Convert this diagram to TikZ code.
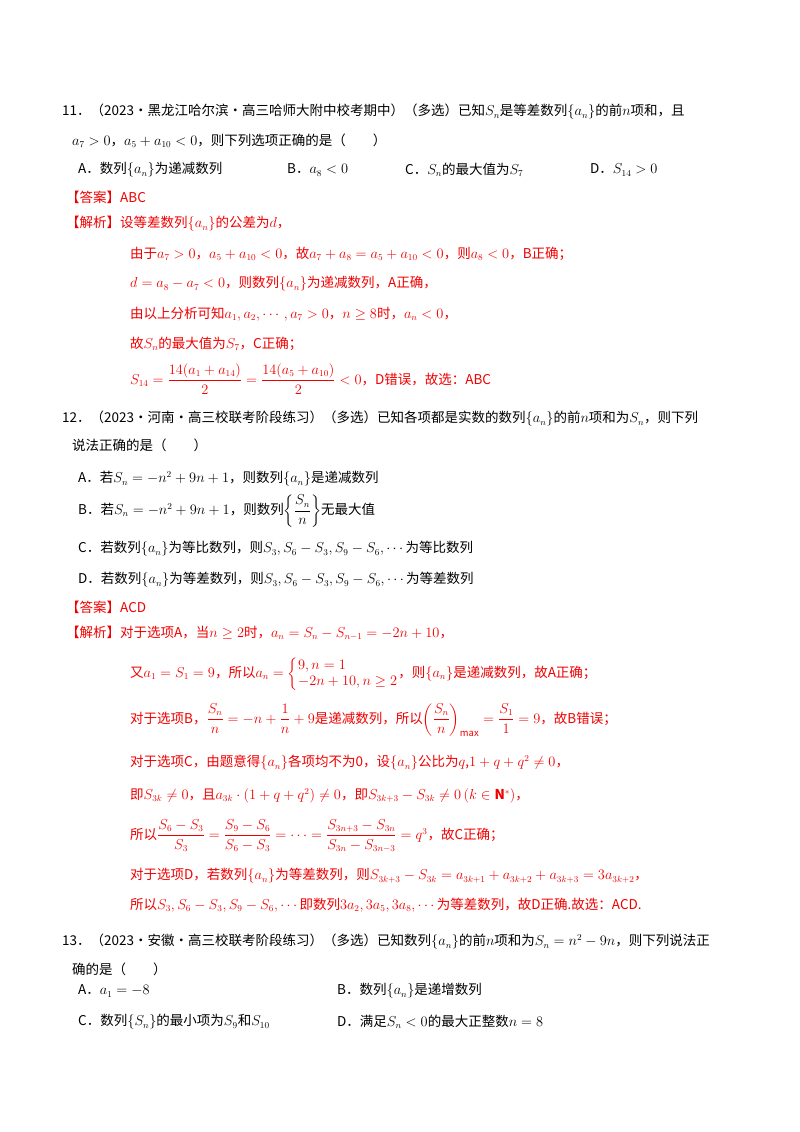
\documentclass[tikz,border=0pt]{standalone}
\usepackage{amsmath,amssymb}
\usepackage{fontspec}
\setmainfont{Noto Sans CJK SC}
\definecolor{ans}{RGB}{240,0,0}
\begin{document}
\begin{tikzpicture}[x=1pt,y=-1pt,
 t/.style={anchor=west,inner sep=0pt,font=\fontsize{13.5}{16}\selectfont},
 r/.style={t,text=ans}]
\useasboundingbox[fill=white] (0,0) rectangle (800,1132);
\node[t] (l1) at (62,112) {11．（2023·黑龙江哈尔滨·高三哈师大附中校考期中）（多选）已知$S_n$是等差数列$\{a_n\}$的前$n$项和，且};
\node[t] (l2) at (72,141) {$a_7>0$，$a_5+a_{10}<0$，则下列选项正确的是（\qquad）};
\node[t] (o1a) at (78,170) {A．数列$\{a_n\}$为递减数列};
\node[t] (o1b) at (287,170) {B．$a_8<0$};
\node[t] (o1c) at (405,170) {C．$S_n$的最大值为$S_7$};
\node[t] (o1d) at (590,170) {D．$S_{14}>0$};
\node[r] (a1) at (66,197) {【答案】ABC};
\node[r] (j1) at (66,224) {【解析】设等差数列$\{a_n\}$的公差为$d$，};
\node[r] (j1b) at (130,254) {由于$a_7>0$，$a_5+a_{10}<0$，故$a_7+a_8=a_5+a_{10}<0$，则$a_8<0$，B正确；};
\node[r] (j1c) at (130,284) {$d=a_8-a_7<0$，则数列$\{a_n\}$为递减数列，A正确，};
\node[r] (j1d) at (130,314) {由以上分析可知$a_1,a_2,\cdots,a_7>0$，$n\geq8$时，$a_n<0$，};
\node[r] (j1e) at (130,344) {故$S_n$的最大值为$S_7$，C正确；};
\node[r] (j1f) at (130,379) {$S_{14}=\dfrac{14(a_1+a_{14})}{2}=\dfrac{14(a_5+a_{10})}{2}<0$，D错误，故选：ABC};
\node[t] (l3) at (62,419) {12．（2023·河南·高三校联考阶段练习）（多选）已知各项都是实数的数列$\{a_n\}$的前$n$项和为$S_n$，则下列};
\node[t] (l4) at (72,445) {说法正确的是（\qquad）};
\node[t] (o2a) at (78,479) {A．若$S_n=-n^2+9n+1$，则数列$\{a_n\}$是递减数列};
\node[t] (o2b) at (78,511) {B．若$S_n=-n^2+9n+1$，则数列$\left\{\dfrac{S_n}{n}\right\}$无最大值};
\node[t] (o2c) at (78,549) {C．若数列$\{a_n\}$为等比数列，则$S_3,S_6-S_3,S_9-S_6,\cdots$为等比数列};
\node[t] (o2d) at (78,580) {D．若数列$\{a_n\}$为等差数列，则$S_3,S_6-S_3,S_9-S_6,\cdots$为等差数列};
\node[r] (a2) at (66,607) {【答案】ACD};
\node[r] (j2) at (66,633) {【解析】对于选项A，当$n\geq2$时，$a_n=S_n-S_{n-1}=-2n+10$，};
\node[r] (j2b) at (130,674) {又$a_1=S_1=9$，所以$a_n=\left\{\begin{array}{@{}l@{}}9,n=1\\-2n+10,n\geq2\end{array}\right.$，则$\{a_n\}$是递减数列，故A正确；};
\node[r] (j2c) at (130,720) {对于选项B，$\dfrac{S_n}{n}=-n+\dfrac1n+9$是递减数列，所以$\left(\dfrac{S_n}{n}\right)_{\max}=\dfrac{S_1}{1}=9$，故B错误；};
\node[r] (j2d) at (130,763) {对于选项C，由题意得$\{a_n\}$各项均不为0，设$\{a_n\}$公比为$q$,$1+q+q^2\neq0$，};
\node[r] (j2e) at (130,796) {即$S_{3k}\neq0$，且$a_{3k}\cdot(1+q+q^2)\neq0$，即$S_{3k+3}-S_{3k}\neq0\left(k\in\mathbf{N}^*\right)$，};
\node[r] (j2f) at (130,836) {所以$\dfrac{S_6-S_3}{S_3}=\dfrac{S_9-S_6}{S_6-S_3}=\cdots=\dfrac{S_{3n+3}-S_{3n}}{S_{3n}-S_{3n-3}}=q^3$，故C正确；};
\node[r] (j2g) at (130,876) {对于选项D，若数列$\{a_n\}$为等差数列，则$S_{3k+3}-S_{3k}=a_{3k+1}+a_{3k+2}+a_{3k+3}=3a_{3k+2}$，};
\node[r] (j2h) at (130,905) {所以$S_3,S_6-S_3,S_9-S_6,\cdots$即数列$3a_2,3a_5,3a_8,\cdots$为等差数列，故D正确.故选：ACD.};
\node[t] (l5) at (62,942) {13．（2023·安徽·高三校联考阶段练习）（多选）已知数列$\{a_n\}$的前$n$项和为$S_n=n^2-9n$，则下列说法正};
\node[t] (l6) at (72,969) {确的是（\qquad）};
\node[t] (o3a) at (78,991) {A．$a_1=-8$};
\node[t] (o3b) at (337,991) {B．数列$\{a_n\}$是递增数列};
\node[t] (o3c) at (78,1022) {C．数列$\{S_n\}$的最小项为$S_9$和$S_{10}$};
\node[t] (o3d) at (337,1022) {D．满足$S_n<0$的最大正整数$n=8$};
\end{tikzpicture}
\end{document}
